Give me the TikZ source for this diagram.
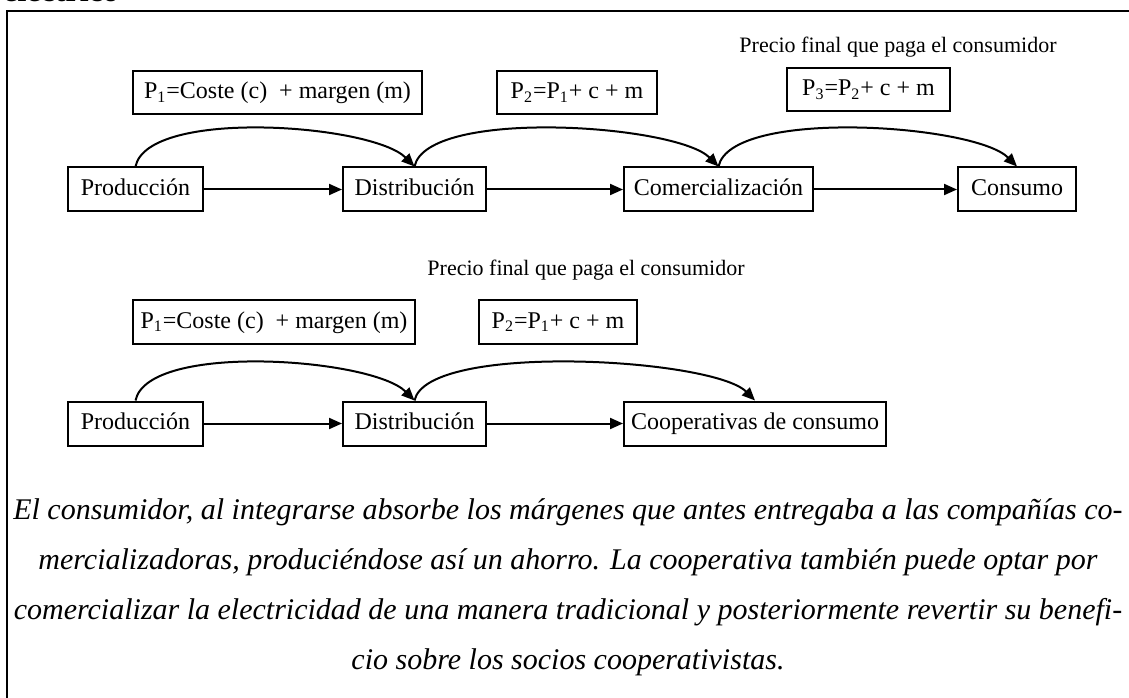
\documentclass[tikz,border=0pt]{standalone}
\usepackage{fontspec}
\setmainfont{Liberation Serif}
\usetikzlibrary{arrows.meta}
\tikzset{
  stage/.style={draw, line width=1pt, inner sep=0pt, minimum height=22pt,
        text height=8.5pt, text depth=2.5pt, font=\fontsize{12}{14}\selectfont},
  price/.style={stage, minimum height=21.5pt},
  note/.style={font=\fontsize{11}{13}\selectfont},
  flow/.style={line width=1pt, -{Triangle[length=6.5pt,width=5.5pt]}},
  frame line/.style={line width=1pt}
}
\def\PriceArc#1#2{%
  \draw[flow] (#1.north) .. controls +(78:30pt) and +(135:30pt) .. (#2.north);
}

\begin{document}
\begin{tikzpicture}[x=0.5pt,y=0.5pt]
\useasboundingbox (0,0) rectangle (1129,697);
\clip (0,0) rectangle (1129,697);
\draw[frame line] (7,-10) -- (7,686) -- (1140,686);
\node[anchor=base west, inner sep=0pt, font=\fontsize{16}{18}\selectfont\bfseries] (title) at (3,695) {eléctrico};

% cadena tradicional
\node[note] (precioA) at (898,650) {Precio final que paga el consumidor};
\node[price, minimum width=144.5pt] (p1A) at (277.5,604) {P\textsubscript{1}=Coste (c)\ \ + margen (m)};
\node[price, minimum width=80pt] (p2A) at (577,604) {P\textsubscript{2}=P\textsubscript{1}+ c + m};
\node[price, minimum width=81.5pt] (p3A) at (868.5,607) {P\textsubscript{3}=P\textsubscript{2}+ c + m};

\node[stage, minimum width=67.5pt] (prodA) at (135.5,507.5) {Producción};
\node[stage, minimum width=71.5pt] (distA) at (414.5,507.5) {Distribución};
\node[stage, minimum width=94.5pt] (comA) at (718.5,507.5) {Comercialización};
\node[stage, minimum width=59pt] (consA) at (1017,507.5) {Consumo};

\draw[flow] (prodA) -- (distA);
\draw[flow] (distA) -- (comA);
\draw[flow] (comA) -- (consA);
\PriceArc{prodA}{distA}
\PriceArc{distA}{comA}
\PriceArc{comA}{consA}

% cadena con cooperativa
\node[note] (precioB) at (586,427) {Precio final que paga el consumidor};
\node[price, minimum width=141pt] (p1B) at (274,375) {P\textsubscript{1}=Coste (c)\ \ + margen (m)};
\node[price, minimum width=79pt] (p2B) at (558,375) {P\textsubscript{2}=P\textsubscript{1}+ c + m};

\node[stage, minimum width=67.5pt] (prodB) at (135.5,273.5) {Producción};
\node[stage, minimum width=71.5pt] (distB) at (414.5,273.5) {Distribución};
\node[stage, minimum width=131pt] (coopB) at (755,273.5) {Cooperativas de consumo};

\draw[flow] (prodB) -- (distB);
\draw[flow] (distB) -- (coopB);
\PriceArc{prodB}{distB}
\PriceArc{distB}{coopB}

\node[align=center, font=\fontsize{15}{25}\selectfont\itshape] (texto) at (568,110) {%
El consumidor, al integrarse absorbe los márgenes que antes entregaba a las compañías co-\\
mercializadoras, produciéndose así un ahorro. La cooperativa también puede optar por\\
comercializar la electricidad de una manera tradicional y posteriormente revertir su benefi-\\
cio sobre los socios cooperativistas.};
\end{tikzpicture}
\end{document}
